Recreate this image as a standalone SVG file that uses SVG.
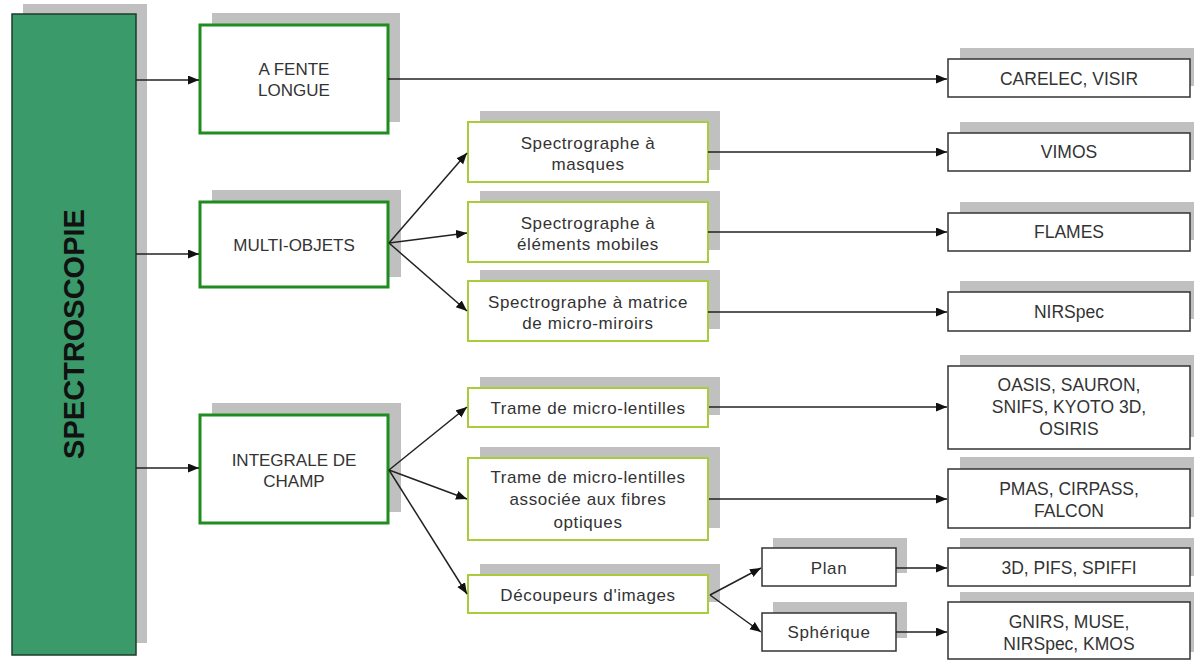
<svg xmlns="http://www.w3.org/2000/svg" width="1194" height="661" viewBox="0 0 1194 661">
<defs>
<marker id="ah" markerWidth="12" markerHeight="10" refX="11" refY="4.5" orient="auto" markerUnits="userSpaceOnUse"><path d="M0,0 L11,4.5 L0,9 z" fill="#111"/></marker>
<style>
.sh{fill:#c0c0c0}
.main{fill:#3a9a6a;stroke:#1c3d2c;stroke-width:1.5}
.cat{fill:#fff;stroke:#1e8c1e;stroke-width:3}
.sub{fill:#fff;stroke:#a9cc3c;stroke-width:2}
.ins{fill:#fff;stroke:#333;stroke-width:1.5}
text{font-family:"Liberation Sans",Arial,sans-serif;font-size:17px;fill:#333;text-anchor:middle}
.s{letter-spacing:0.6px}
.r{font-size:17.5px}
.big{font-size:29px;font-weight:bold;fill:#111}
.c line{stroke:#222;stroke-width:1.5;marker-end:url(#ah)}
</style>
</defs>
<rect width="1194" height="661" fill="#fff"/>

<g id="spectroscopie">
<rect class="sh" x="23" y="4" width="124" height="639"/>
<rect class="main" x="12" y="14" width="124" height="641"/>
<text class="big" transform="translate(84,334) rotate(-90)">SPECTROSCOPIE</text>
</g>

<g id="fente">
<rect class="sh" x="212" y="13" width="188" height="109"/>
<rect class="cat" x="200" y="25" width="188" height="108"/>
<text x="294" y="75">A FENTE</text>
<text x="294" y="96">LONGUE</text>
</g>
<g id="multi">
<rect class="sh" x="212" y="190" width="189" height="87"/>
<rect class="cat" x="200" y="202" width="188" height="85"/>
<text x="294" y="251">MULTI-OBJETS</text>
</g>
<g id="integrale">
<rect class="sh" x="212" y="403" width="189" height="109"/>
<rect class="cat" x="200" y="415" width="188" height="108"/>
<text x="294" y="466">INTEGRALE DE</text>
<text x="294" y="487">CHAMP</text>
</g>

<g id="masques">
<rect class="sh" x="480" y="111" width="240" height="59"/>
<rect class="sub" x="468" y="122" width="240" height="60"/>
<text class="s" x="588" y="149">Spectrographe à</text>
<text class="s" x="588" y="170">masques</text>
</g>
<g id="mobiles">
<rect class="sh" x="480" y="191" width="240" height="59"/>
<rect class="sub" x="468" y="202" width="240" height="60"/>
<text class="s" x="588" y="229">Spectrographe à</text>
<text class="s" x="588" y="250">éléments mobiles</text>
</g>
<g id="matrice">
<rect class="sh" x="480" y="270" width="240" height="59"/>
<rect class="sub" x="468" y="281" width="240" height="60"/>
<text class="s" x="588" y="308">Spectrographe à matrice</text>
<text class="s" x="588" y="329">de micro-miroirs</text>
</g>
<g id="trame">
<rect class="sh" x="480" y="377" width="240" height="38"/>
<rect class="sub" x="468" y="388" width="240" height="39"/>
<text class="s" x="588" y="414">Trame de micro-lentilles</text>
</g>
<g id="fibres">
<rect class="sh" x="480" y="447" width="240" height="81"/>
<rect class="sub" x="468" y="458" width="240" height="82"/>
<text class="s" x="588" y="483">Trame de micro-lentilles</text>
<text class="s" x="588" y="505">associée aux fibres</text>
<text class="s" x="588" y="528">optiques</text>
</g>
<g id="decoupeurs">
<rect class="sh" x="480" y="564" width="240" height="38"/>
<rect class="sub" x="468" y="575" width="240" height="38"/>
<text class="s" x="588" y="601">Découpeurs d'images</text>
</g>

<g id="plan">
<rect class="sh" x="773" y="538" width="134" height="35"/>
<rect class="ins" x="762" y="548" width="134" height="38"/>
<text class="s" x="829" y="574">Plan</text>
</g>
<g id="spherique">
<rect class="sh" x="773" y="602" width="134" height="36"/>
<rect class="ins" x="762" y="613" width="134" height="38"/>
<text class="s" x="829" y="638">Sphérique</text>
</g>

<g id="carelec">
<rect class="sh" x="960" y="48" width="250" height="38"/>
<rect class="ins" x="948" y="59" width="242" height="38"/>
<text class="r" x="1069" y="85">CARELEC, VISIR</text>
</g>
<g id="vimos">
<rect class="sh" x="960" y="122" width="250" height="38"/>
<rect class="ins" x="948" y="133" width="242" height="38"/>
<text class="r" x="1069" y="158">VIMOS</text>
</g>
<g id="flames">
<rect class="sh" x="960" y="202" width="250" height="38"/>
<rect class="ins" x="948" y="213" width="242" height="38"/>
<text class="r" x="1069" y="238">FLAMES</text>
</g>
<g id="nirspec">
<rect class="sh" x="960" y="281" width="250" height="38"/>
<rect class="ins" x="948" y="292" width="242" height="39"/>
<text class="r" x="1069" y="318">NIRSpec</text>
</g>
<g id="oasis">
<rect class="sh" x="960" y="355" width="250" height="82"/>
<rect class="ins" x="948" y="366" width="242" height="83"/>
<text class="r" x="1069" y="391">OASIS, SAURON,</text>
<text class="r" x="1069" y="413">SNIFS, KYOTO 3D,</text>
<text class="r" x="1069" y="435">OSIRIS</text>
</g>
<g id="pmas">
<rect class="sh" x="960" y="457" width="250" height="60"/>
<rect class="ins" x="948" y="469" width="242" height="59"/>
<text class="r" x="1069" y="495">PMAS, CIRPASS,</text>
<text class="r" x="1069" y="517">FALCON</text>
</g>
<g id="pifs">
<rect class="sh" x="960" y="538" width="250" height="38"/>
<rect class="ins" x="948" y="548" width="242" height="38"/>
<text class="r" x="1069" y="574">3D, PIFS, SPIFFI</text>
</g>
<g id="gnirs">
<rect class="sh" x="960" y="592" width="250" height="60"/>
<rect class="ins" x="948" y="602" width="242" height="57"/>
<text class="r" x="1069" y="628">GNIRS, MUSE,</text>
<text class="r" x="1069" y="650">NIRSpec, KMOS</text>
</g>

<g class="c" id="connectors">
<line x1="136" y1="80" x2="199" y2="80"/>
<line x1="136" y1="254" x2="199" y2="254"/>
<line x1="136" y1="468" x2="199" y2="468"/>
<line x1="388" y1="79" x2="947" y2="79"/>
<line x1="389" y1="243" x2="467" y2="153"/>
<line x1="389" y1="243" x2="467" y2="233"/>
<line x1="389" y1="243" x2="467" y2="311"/>
<line x1="708" y1="152" x2="947" y2="152"/>
<line x1="708" y1="232" x2="947" y2="232"/>
<line x1="708" y1="312" x2="947" y2="312"/>
<line x1="389" y1="470" x2="467" y2="407"/>
<line x1="389" y1="470" x2="467" y2="499"/>
<line x1="389" y1="470" x2="467" y2="594"/>
<line x1="709" y1="407" x2="947" y2="407"/>
<line x1="709" y1="499" x2="947" y2="499"/>
<line x1="710" y1="595" x2="761" y2="568"/>
<line x1="710" y1="595" x2="761" y2="632"/>
<line x1="896" y1="568" x2="947" y2="568"/>
<line x1="896" y1="632" x2="947" y2="632"/>
</g>
</svg>
